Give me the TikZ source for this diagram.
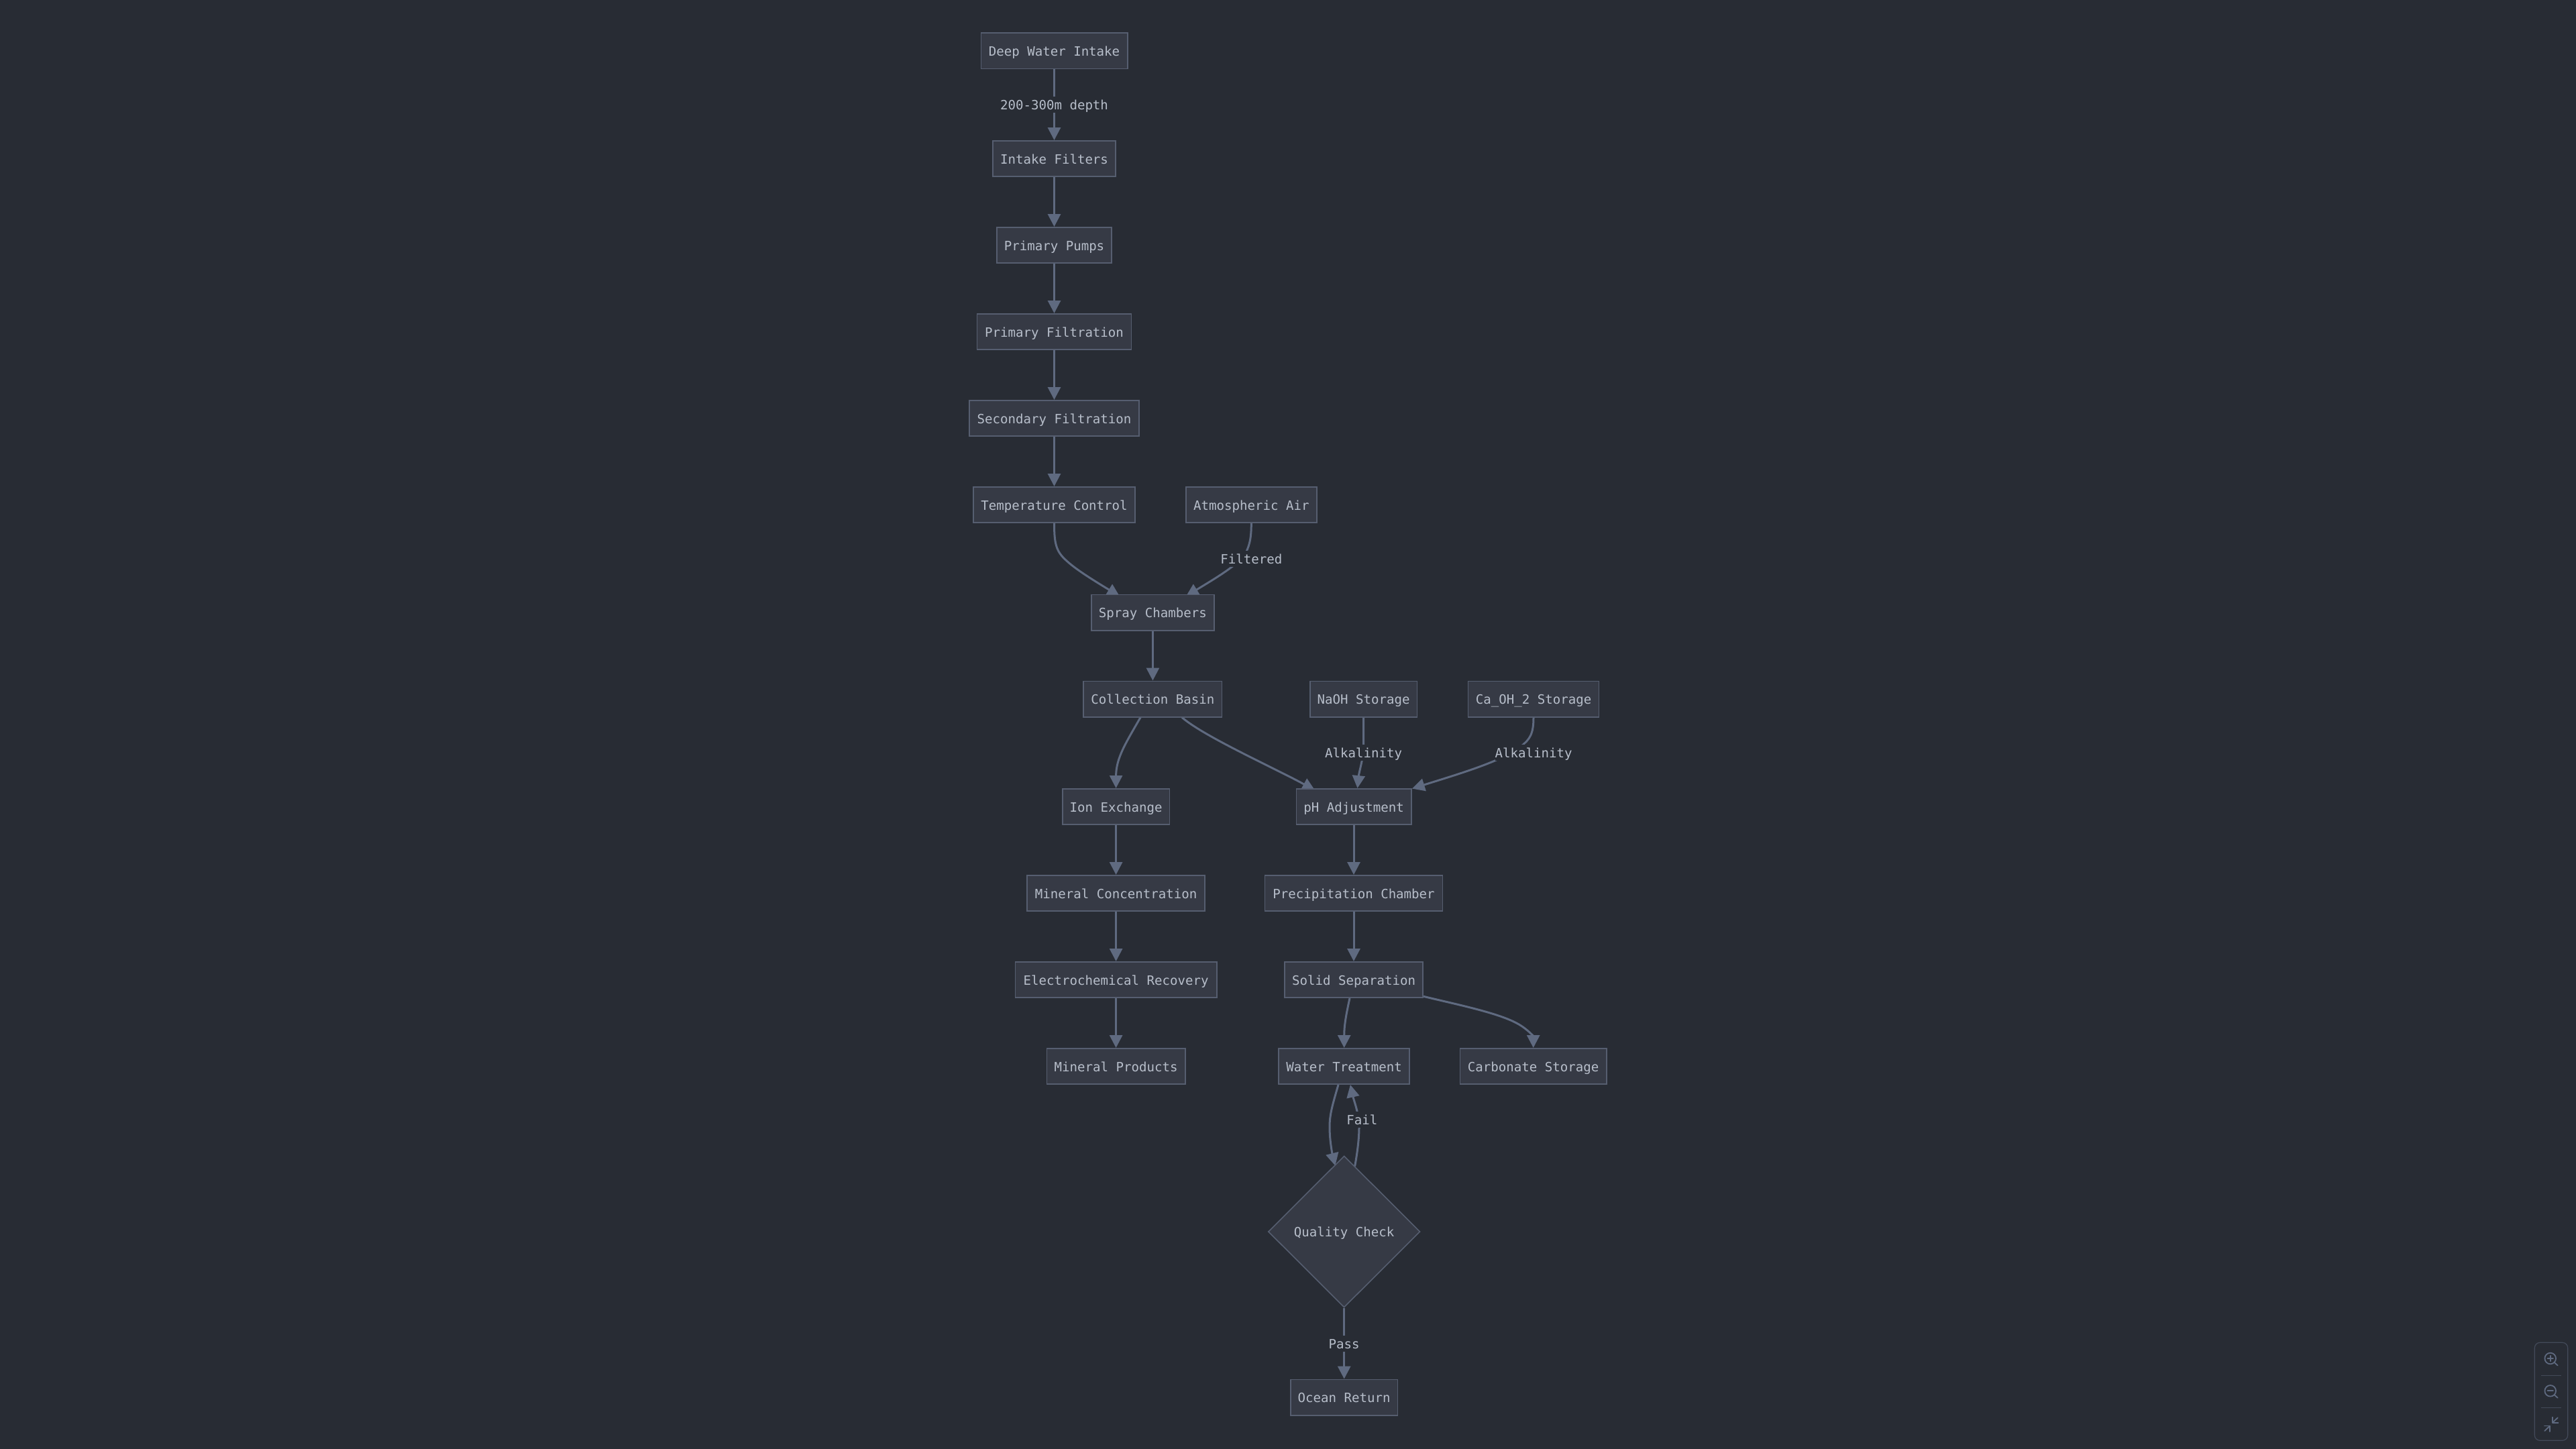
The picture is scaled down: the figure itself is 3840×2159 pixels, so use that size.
\documentclass[tikz,border=0pt]{standalone}
\usepackage{fontspec}
\setmainfont{DejaVu Sans Mono}
\usetikzlibrary{arrows.meta,calc,shapes.geometric}
\pgfdeclarelayer{fg}
\pgfsetlayers{main,fg}
\definecolor{bgc}{HTML}{282C34}
\definecolor{nodefill}{HTML}{363A45}
\definecolor{nodeline}{HTML}{565E70}
\definecolor{edgec}{HTML}{5F6A80}
\definecolor{txt}{HTML}{B7BECA}
\definecolor{panelc}{HTML}{434A59}
\tikzset{
  x=0.5pt,y=-0.5pt,
  txtbase/.style={text=txt,font=\fontsize{9.55pt}{11pt}\selectfont,text height=7.6pt,text depth=0pt,inner sep=0pt},
  boxn/.style={txtbase,draw=nodeline,fill=nodefill,line width=0.8pt,minimum height=26.7pt,minimum width=#1*0.5pt-0.8pt},
  dia/.style={txtbase,diamond,draw=nodeline,fill=nodefill,line width=0.8pt,minimum width=113.2pt,minimum height=112.9pt},
  lab/.style={txtbase,fill=bgc,minimum height=12pt},
  edge/.style={draw=edgec,line width=1.5pt,-{Triangle[length=9.4pt,width=9.4pt,fill=edgec]}},
  icon/.style={draw=edgec,line width=0.9pt,line cap=round,line join=round}
}
\begin{document}
\begin{tikzpicture}
\useasboundingbox (0,0) rectangle (3840,2159);
\fill[bgc] (-20,-20) rectangle (3860,2180);
\begin{pgfonlayer}{fg}
\node[boxn=220] (deep) at (1571.5,75.8) {Deep Water Intake};
\node[boxn=184.8] (filters) at (1571.5,236.5) {Intake Filters};
\node[boxn=173] (pumps) at (1571.5,365.5) {Primary Pumps};
\node[boxn=231.7] (pfilt) at (1571.5,494.5) {Primary Filtration};
\node[boxn=255] (sfilt) at (1571.5,623.5) {Secondary Filtration};
\node[boxn=243] (temp) at (1571.5,752.5) {Temperature Control};
\node[boxn=196.5] (air) at (1865.3,752.5) {Atmospheric Air};
\node[boxn=184.8] (spray) at (1718.4,913) {Spray Chambers};
\node[boxn=208] (basin) at (1718.4,1042) {Collection Basin};
\node[boxn=161.4] (naoh) at (2032.6,1042) {NaOH Storage};
\node[boxn=196.5] (caoh) at (2286,1042) {Ca\_OH\_2 Storage};
\node[boxn=161.4] (ion) at (1663.6,1202.4) {Ion Exchange};
\node[boxn=173] (ph) at (2018,1202.4) {pH Adjustment};
\node[boxn=266.7] (mineral) at (1663.6,1331.5) {Mineral Concentration};
\node[boxn=266.7] (precip) at (2018,1331.5) {Precipitation Chamber};
\node[boxn=301.8] (electro) at (1663.6,1460.5) {Electrochemical Recovery};
\node[boxn=208] (solid) at (2018,1460.5) {Solid Separation};
\node[boxn=208] (products) at (1663.6,1589.5) {Mineral Products};
\node[boxn=196.5] (water) at (2003.7,1589.5) {Water Treatment};
\node[boxn=220] (carb) at (2285.7,1589.5) {Carbonate Storage};
\node[dia] (check) at (2003.7,1836) {Quality Check};
\node[boxn=161.4] (ocean) at (2003.7,2083) {Ocean Return};
\node[lab] (ldepth) at (1571.5,156) {200-300m depth};
\node[lab] (lfilt) at (1865.3,832.7) {Filtered};
\node[lab] (lalk1) at (2032.6,1121.7) {Alkalinity};
\node[lab] (lalk2) at (2286,1121.7) {Alkalinity};
\node[lab] (lfail) at (2030.4,1669.3) {Fail};
\node[lab] (lpass) at (2003.7,2002.7) {Pass};
\end{pgfonlayer}
% straight edges
\draw[edge] (deep.south) -- (filters.north);
\draw[edge] (filters.south) -- (pumps.north);
\draw[edge] (pumps.south) -- (pfilt.north);
\draw[edge] (pfilt.south) -- (sfilt.north);
\draw[edge] (sfilt.south) -- (temp.north);
\draw[edge] (spray.south) -- (basin.north);
\draw[edge] (ion.south) -- (mineral.north);
\draw[edge] (mineral.south) -- (electro.north);
\draw[edge] (electro.south) -- (products.north);
\draw[edge] (ph.south) -- (precip.north);
\draw[edge] (precip.south) -- (solid.north);
\draw[edge] (check.south) -- (ocean.north);
% curved edges
\draw[edge] (temp.south) .. controls (1571.5,810) and (1574,822) .. (1590,836)
  .. controls (1605,850) and (1635,868) .. ($(spray.north)+(-49.4,3.3)$);
\draw[edge] (air.south) .. controls (1865.3,805) and (1862,815) .. (1855,828)
  .. controls (1840,846) and (1805,866) .. ($(spray.north)+(49.6,3.3)$);
\draw[edge] ($(basin.south)+(-18.4,0)$) .. controls (1678,1108) and (1663.6,1130) .. (ion.north);
\draw[edge] ($(basin.south)+(43.6,0)$) .. controls (1795,1098) and (1900,1145) .. ($(ph.north)+(-58,3)$);
\draw[edge] (naoh.south) -- (2032.6,1112) .. controls (2032.6,1130) and (2026,1150) .. ($(ph.north)+(5.5,0)$);
\draw[edge] (caoh.south) .. controls (2286,1095) and (2280,1102) .. (2268,1112)
  .. controls (2240,1135) and (2170,1155) .. ($(ph.north east)+(0.5,0.7)$);
\draw[edge] ($(solid.south)+(-6,0)$) .. controls (2006,1515) and (2003.7,1530) .. (water.north);
\draw[edge] ($(solid.south east)+(0,-2.7)$) .. controls (2170,1497) and (2235,1510) .. (2263.6,1526.7)
  .. controls (2278,1535) and (2285.7,1545) .. (carb.north);
\draw[edge] ($(water.south)+(-8.7,0)$) .. controls (1987,1645) and (1982,1660) .. (1982,1680)
  .. controls (1982,1700) and (1986,1720) .. ($(check.north)+(-13.3,15.3)$);
\draw[edge] ($(check.north)+(15.9,16.3)$) .. controls (2024,1715) and (2026,1695) .. (2026,1680)
  .. controls (2026,1660) and (2018,1640) .. ($(water.south)+(9.2,0)$);
% zoom control panel
\draw[panelc,line width=0.6pt,rounded corners=4pt] (3778.3,2001.3) rectangle (3827.7,2147.3);
\draw[panelc,line width=0.6pt] (3788,2050.3) -- (3818,2050.3);
\draw[panelc,line width=0.6pt] (3788,2098.3) -- (3818,2098.3);
\draw[icon] (3801.7,2025) circle (8.3);
\draw[icon] (3807.6,2030.9) -- (3812.7,2035.5);
\draw[icon] (3797.5,2025) -- (3805.9,2025);
\draw[icon] (3801.7,2020.8) -- (3801.7,2029.2);
\draw[icon] (3801.7,2073.3) circle (8.3);
\draw[icon] (3807.6,2079.2) -- (3812.7,2083.8);
\draw[icon] (3797.5,2073.3) -- (3805.9,2073.3);
\draw[icon] (3812.7,2113.3) -- (3805,2120.7);
\draw[icon] (3805,2112.5) -- (3805,2120.7) -- (3813.5,2120.7);
\draw[icon] (3793.3,2133) -- (3801,2125.5);
\draw[icon] (3793,2125.5) -- (3801,2125.5) -- (3801,2134);
\end{tikzpicture}
\end{document}
